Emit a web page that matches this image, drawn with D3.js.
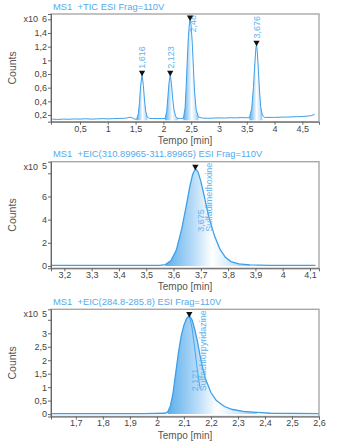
<!DOCTYPE html>
<html><head><meta charset="utf-8">
<script src="https://cdn.jsdelivr.net/npm/d3@7"></script>
<style>body{margin:0;background:#fff}svg{display:block}text{font-family:"Liberation Sans",Arial,sans-serif}</style>
</head><body><svg id="c" width="339" height="441"></svg>
<script>
// ---------- DATA ----------
// Panel 1: TIC (counts x10^6)
const ticTime = [0.00,0.10,0.20,0.30,0.40,0.50,0.60,0.70,0.80,0.90,1.00,1.10,1.20,1.30,1.36,1.40,1.44,1.48,1.52,1.55,1.57,1.59,1.616,1.64,1.66,1.68,1.71,1.75,1.80,1.90,1.97,2.03,2.06,2.08,2.10,2.123,2.145,2.165,2.19,2.22,2.26,2.31,2.36,2.39,2.41,2.43,2.45,2.47,2.48,2.50,2.52,2.54,2.56,2.59,2.63,2.70,2.80,2.90,3.00,3.10,3.20,3.30,3.40,3.50,3.55,3.59,3.62,3.645,3.665,3.676,3.69,3.71,3.73,3.75,3.78,3.82,3.90,4.00,4.10,4.20,4.30,4.40,4.50,4.60,4.66,4.72];
const ticCounts = [0.140,0.135,0.140,0.138,0.142,0.140,0.145,0.140,0.143,0.147,0.143,0.147,0.150,0.152,0.160,0.168,0.158,0.140,0.140,0.22,0.38,0.62,0.79,0.63,0.42,0.26,0.17,0.150,0.148,0.150,0.147,0.150,0.25,0.45,0.66,0.79,0.66,0.46,0.28,0.18,0.150,0.150,0.150,0.30,0.60,1.00,1.35,1.56,1.60,1.50,1.25,0.90,0.55,0.28,0.170,0.155,0.152,0.155,0.158,0.155,0.160,0.158,0.162,0.160,0.160,0.30,0.60,0.95,1.18,1.23,1.12,0.85,0.55,0.32,0.20,0.165,0.165,0.165,0.168,0.170,0.172,0.175,0.178,0.185,0.190,0.210];
const ticPeakApex = [1.616,2.123,2.48,3.676];
const ticPeakStart = [1.51,2.02,2.35,3.54];
const ticPeakEnd = [1.74,2.27,2.64,3.81];
const ticPeakLabels = ["1,616","2,123","2,48","3,676"];
const ticXTicks = [0.5,1,1.5,2,2.5,3,3.5,4,4.5];
const ticYTicks = [0.2,0.4,0.6,0.8,1.0,1.2,1.4,1.6];

// Panel 2: EIC 310.89965-311.89965 (counts x10^5)
const eic1Time = [3.15,3.30,3.45,3.55,3.57,3.59,3.61,3.63,3.645,3.66,3.67,3.68,3.69,3.70,3.71,3.72,3.73,3.75,3.77,3.79,3.81,3.84,3.88,3.95,4.12];
const eic1Counts = [0.05,0.05,0.05,0.05,0.12,0.45,1.35,3.2,5.0,6.9,7.9,8.4,8.1,7.3,6.3,5.2,4.2,2.6,1.45,0.75,0.38,0.18,0.09,0.06,0.05];
const eic1PeakApex = [3.68];
const eic1PeakStart = [3.565];
const eic1PeakEnd = [3.88];
const eic1PeakLabels = [["3,675","Sulfadimethoxine"]];
const eic1XTicks = [3.2,3.3,3.4,3.5,3.6,3.7,3.8,3.9,4.0,4.1];
const eic1YTicks = [0,2,4,6,8];

// Panel 3: EIC 284.8-285.8 (counts x10^5)
const eic2Time = [1.61,1.80,1.95,2.03,2.04,2.05,2.06,2.07,2.08,2.09,2.10,2.11,2.12,2.13,2.14,2.15,2.16,2.17,2.18,2.20,2.22,2.25,2.28,2.32,2.37,2.42,2.60];
const eic2Counts = [0.02,0.02,0.02,0.03,0.08,0.30,0.80,1.55,2.30,2.90,3.30,3.55,3.65,3.50,3.15,2.70,2.15,1.70,1.30,0.80,0.50,0.28,0.17,0.10,0.06,0.03,0.02];
const eic2QualTime = [2.12,2.13,2.14,2.15,2.16];
const eic2QualCounts = [3.65,3.20,2.45,1.60,0.95];
const eic2PeakApex = [2.12];
const eic2PeakStart = [2.035];
const eic2PeakEnd = [2.38];
const eic2PeakLabels = [["2,121","Sulfachlorpyridazine"]];
const eic2XTicks = [1.7,1.8,1.9,2.0,2.1,2.2,2.3,2.4,2.5,2.6];
const eic2YTicks = [0,0.5,1,1.5,2,2.5,3,3.5];

// ---------- DRAW ----------
const svg = d3.select("#c");
const loc = d3.formatLocale({decimal:",", thousands:".", grouping:[3], currency:["",""]});
const fmt = v => loc.format("~g")(+v.toFixed(4));
const LINE = "#3c9fe9", LABEL = "#62b2ee", TXT = "#444";

const defs = svg.append("defs");
let gid = 0;
function grad(){
  const id = "g"+(gid++);
  const g = defs.append("linearGradient").attr("id",id).attr("x1","0").attr("x2","1").attr("y1","0").attr("y2","0");
  [[0,"#4aa6ea",0.9],[0.3,"#a6d3f6",0.9],[0.55,"#ffffff",0.95],[0.78,"#cfe7fa",0.9],[1,"#80c0f0",0.9]]
    .forEach(s=>g.append("stop").attr("offset",s[0]).attr("stop-color",s[1]).attr("stop-opacity",s[2]));
  return id;
}

function panel(o){
  const L=51,R=319;
  const x = d3.scaleLinear().domain(o.xd).range([L,R]);
  const y = d3.scaleLinear().domain(o.yd).range([o.bottom,o.top]);
  const g = svg.append("g");
  const cid = "clip"+o.top;
  defs.append("clipPath").attr("id",cid).append("rect").attr("x",L).attr("y",o.top).attr("width",R-L).attr("height",o.bottom-o.top);

  g.append("text").attr("x",L+2).attr("y",o.top-4.5).attr("font-size",9.4).attr("fill","#55aaec").attr("xml:space","preserve").text(o.title);

  const pts = o.time.map((t,i)=>[t,o.counts[i]]);
  const plot = g.append("g").attr("clip-path","url(#"+cid+")");

  o.start.forEach((s,k)=>{
    const e = o.end[k];
    const sub = pts.filter(p=>p[0]>=s && p[0]<=e);
    const area = d3.area().x(p=>x(p[0])).y0(y(o.base)).y1(p=>y(p[1]));
    plot.append("path").attr("d",area(sub)).attr("fill","url(#"+grad()+")");
  });
  const line = d3.line().x(p=>x(p[0])).y(p=>y(p[1]));
  plot.append("path").attr("d",line(pts)).attr("fill","none").attr("stroke",LINE).attr("stroke-width",o.lw||1);
  if(o.qt){
    plot.append("path").attr("d",line(o.qt.map((t,i)=>[t,o.qc[i]]))).attr("fill","none").attr("stroke",LINE).attr("stroke-width",0.9);
  }

  g.append("rect").attr("x",L).attr("y",o.top).attr("width",R-L).attr("height",o.bottom-o.top).attr("fill","none").attr("stroke","#a8a8a8").attr("stroke-width",1.4);

  const ax = g.append("g").attr("transform","translate(0,"+o.bottom+")")
    .call(d3.axisBottom(x).tickValues(o.xt).tickSize(3).tickPadding(0.5).tickFormat(fmt));
  const ay = g.append("g").attr("transform","translate("+L+",0)")
    .call(d3.axisLeft(y).tickValues(o.yt).tickSize(3).tickPadding(1).tickFormat(fmt));
  [ax,ay].forEach(a=>{
    a.select(".domain").attr("stroke","#666");
    a.selectAll(".tick line").attr("stroke","#666");
    a.selectAll("text").attr("font-size",9).attr("fill",TXT).attr("font-family","Liberation Sans, Arial, sans-serif");
  });
  ay.selectAll(".tick").filter(d=>y(d)-o.top<13).select("text").remove();
  g.append("text").attr("x",47).attr("y",o.top+8).attr("text-anchor","end").attr("font-size",9).attr("fill",TXT)
    .html('x10 <tspan dy="-0.5" dx="1.5">'+o.exp+'</tspan>');
  g.append("text").attr("transform","translate(15.5,"+((o.top+o.bottom)/2)+") rotate(-90)").attr("text-anchor","middle")
    .attr("font-size",10.5).attr("fill","#555").text("Counts");
  g.append("text").attr("x",(L+R)/2).attr("y",o.bottom+22).attr("text-anchor","middle").attr("font-size",10).attr("fill","#555").text("Tempo [min]");

  o.apex.forEach((a,k)=>{
    const i = d3.minIndex(o.time,t=>Math.abs(t-a));
    const px = x(a), py = y(o.counts[i]);
    const lines = [].concat(o.labels[k]);
    const lab = g.append("g");
    const texts = lines.map((s,j)=>lab.append("text").attr("font-size",9).attr("fill",LABEL).text(s));
    const maxLen = d3.max(texts,t=>t.node().getComputedTextLength());
    let sy = py-6, off = 0;
    if(sy-maxLen < o.top || lines.length>1){ sy = o.top+maxLen+1; off = lines.length>1?5:3; }
    texts.forEach((t,j)=>t.attr("transform","translate("+(px+off+3.3+j*8.5)+","+sy+") rotate(-90)"));
    g.append("path").attr("d",d3.symbol().type(d3.symbolTriangle).size(17)())
      .attr("transform","translate("+px+","+(py-2)+") rotate(180)").attr("fill","#111");
  });
}

panel({title:"MS1  +TIC ESI Frag=110V", top:14, bottom:121.7, xd:[-0.022,4.80], yd:[0.102,1.678],
  time:ticTime, counts:ticCounts, base:0.125, start:ticPeakStart, end:ticPeakEnd, apex:ticPeakApex, labels:ticPeakLabels,
  xt:ticXTicks, yt:ticYTicks, exp:"6"});
panel({title:"MS1  +EIC(310.89965-311.89965) ESI Frag=110V", top:161.7, bottom:268.3, xd:[3.151,4.133], yd:[-0.2,9.0],
  time:eic1Time, counts:eic1Counts, base:0, start:eic1PeakStart, end:eic1PeakEnd, apex:eic1PeakApex, labels:eic1PeakLabels,
  xt:eic1XTicks, yt:eic1YTicks, exp:"5", lw:1.3});
panel({title:"MS1  +EIC(284.8-285.8) ESI Frag=110V", top:309.3, bottom:416.5, xd:[1.608,2.60], yd:[-0.09,3.89],
  time:eic2Time, counts:eic2Counts, base:0, start:eic2PeakStart, end:eic2PeakEnd, apex:eic2PeakApex, labels:eic2PeakLabels,
  qt:eic2QualTime, qc:eic2QualCounts, xt:eic2XTicks, yt:eic2YTicks, exp:"5", lw:1.3});
</script></body></html>
